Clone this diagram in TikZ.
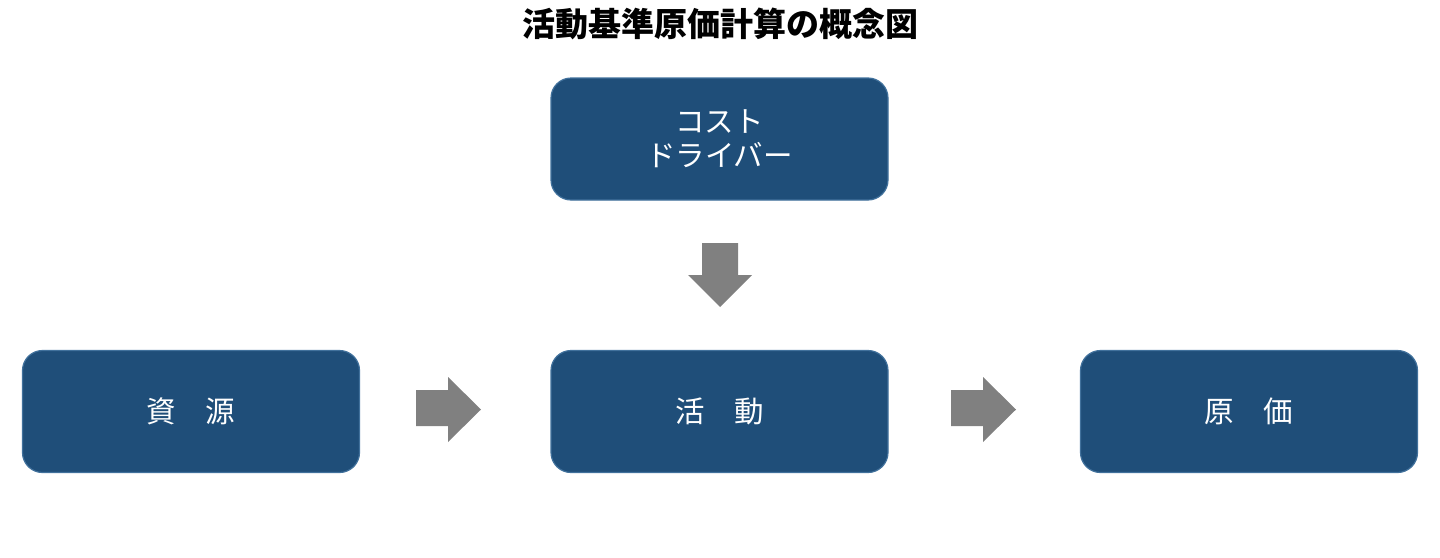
\documentclass[tikz,border=0pt]{standalone}
\usepackage{fontspec}
\setmainfont{Noto Sans CJK JP}
\newfontfamily\jpfont{Noto Sans CJK JP}
\begin{document}
\begin{tikzpicture}[x=1pt,y=-1pt,
  box/.style={draw=boxedge,line width=1.2pt,fill=boxfill,rounded corners=20pt,
    minimum width=337pt,minimum height=122pt,text=white,align=center,
    font=\jpfont\fontsize{29.5}{34}\selectfont,inner sep=0pt},
  fatarrow/.style={fill=arrowgray,draw=none}]
\definecolor{boxfill}{HTML}{1F4E79}
\definecolor{boxedge}{HTML}{41719C}
\definecolor{arrowgray}{HTML}{808080}
\useasboundingbox (0,0) rectangle (1440,557);
\node[font=\jpfont\bfseries\fontsize{33}{38}\selectfont] (title) at (720,24) {活動基準原価計算の概念図};
\node[box] (driver) at (719.5,139) {コスト\\ドライバー};
\node[box] (res) at (191,411.5) {資　源};
\node[box] (act) at (719.5,411.5) {活　動};
\node[box] (cost) at (1249,411.5) {原　価};
% down arrow
\fill[fatarrow] (702,243) -- (738,243) -- (738,275) -- (752,275) -- (720,307) -- (688,275) -- (702,275) -- cycle;
% right arrows
\fill[fatarrow] (416,390) -- (448,390) -- (448,377) -- (481,409.5) -- (448,442) -- (448,426) -- (416,426) -- cycle;
\fill[fatarrow] (951,390) -- (983,390) -- (983,377) -- (1016,409.5) -- (983,442) -- (983,426) -- (951,426) -- cycle;
\end{tikzpicture}
\end{document}
